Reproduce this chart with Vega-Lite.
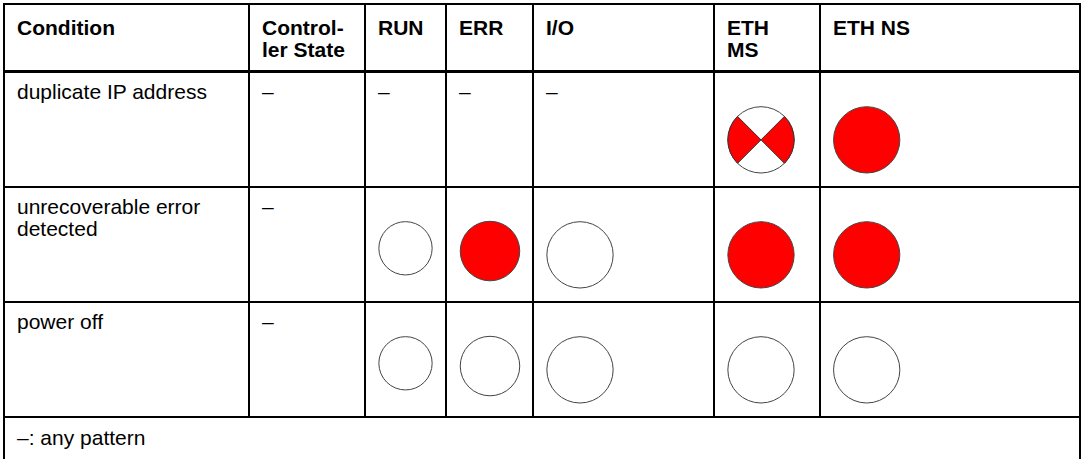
{
  "$schema": "https://vega.github.io/schema/vega-lite/v6.json",
  "padding": {"left": 3, "top": 3, "right": 0, "bottom": 0},
  "background": "white",
  "spacing": -2,
  "config": {
    "view": {"stroke": null},
    "text": {"font": "Liberation Sans", "fontSize": 21, "color": "black"},
    "concat": {"spacing": 0}
  },
  "datasets": {
    "header": [
      {"col": "Condition", "label": "Condition"},
      {"col": "State", "label": "Control-\nler State"},
      {"col": "RUN", "label": "RUN"},
      {"col": "ERR", "label": "ERR"},
      {"col": "IO", "label": "I/O"},
      {"col": "ETHMS", "label": "ETH\nMS"},
      {"col": "ETHNS", "label": "ETH NS"}
    ],
    "cells": [
      {"row": "dup", "col": "Condition", "text": "duplicate IP address"},
      {"row": "dup", "col": "State", "text": "–"},
      {"row": "dup", "col": "RUN", "text": "–"},
      {"row": "dup", "col": "ERR", "text": "–"},
      {"row": "dup", "col": "IO", "text": "–"},
      {"row": "dup", "col": "ETHMS", "led": "flashing"},
      {"row": "dup", "col": "ETHNS", "led": "on"},
      {"row": "err", "col": "Condition", "text": "unrecoverable error\ndetected"},
      {"row": "err", "col": "State", "text": "–"},
      {"row": "err", "col": "RUN", "led": "off"},
      {"row": "err", "col": "ERR", "led": "on"},
      {"row": "err", "col": "IO", "led": "off"},
      {"row": "err", "col": "ETHMS", "led": "on"},
      {"row": "err", "col": "ETHNS", "led": "on"},
      {"row": "off", "col": "Condition", "text": "power off"},
      {"row": "off", "col": "State", "text": "–"},
      {"row": "off", "col": "RUN", "led": "off"},
      {"row": "off", "col": "ERR", "led": "off"},
      {"row": "off", "col": "IO", "led": "off"},
      {"row": "off", "col": "ETHMS", "led": "off"},
      {"row": "off", "col": "ETHNS", "led": "off"}
    ],
    "notes": [{"note": "–: any pattern"}]
  },
  "vconcat": [
    {
      "bounds": "flush",
      "spacing": 0,
      "hconcat": [
        {"width": 245, "height": 67, "data": {"name": "header"}, "transform": [{"filter": "datum.col === 'Condition'"}],
         "layer": [
           {"mark": {"type": "rect", "fill": "white", "stroke": "black", "strokeWidth": 2}, "encoding": {"x": {"value": 0}, "x2": {"value": "width"}, "y": {"value": 0}, "y2": {"value": "height"}}},
           {"mark": {"type": "text", "align": "left", "baseline": "alphabetic", "fontWeight": "bold", "x": 0, "dx": 13, "y": 0, "dy": 30.5, "lineHeight": 22, "lineBreak": "\n"}, "encoding": {"text": {"field": "label"}}}
         ]},
        {"width": 116, "height": 67, "data": {"name": "header"}, "transform": [{"filter": "datum.col === 'State'"}],
         "layer": [
           {"mark": {"type": "rect", "fill": "white", "stroke": "black", "strokeWidth": 2}, "encoding": {"x": {"value": 0}, "x2": {"value": "width"}, "y": {"value": 0}, "y2": {"value": "height"}}},
           {"mark": {"type": "text", "align": "left", "baseline": "alphabetic", "fontWeight": "bold", "x": 0, "dx": 13, "y": 0, "dy": 30.5, "lineHeight": 22, "lineBreak": "\n"}, "encoding": {"text": {"field": "label"}}}
         ]},
        {"width": 81, "height": 67, "data": {"name": "header"}, "transform": [{"filter": "datum.col === 'RUN'"}],
         "layer": [
           {"mark": {"type": "rect", "fill": "white", "stroke": "black", "strokeWidth": 2}, "encoding": {"x": {"value": 0}, "x2": {"value": "width"}, "y": {"value": 0}, "y2": {"value": "height"}}},
           {"mark": {"type": "text", "align": "left", "baseline": "alphabetic", "fontWeight": "bold", "x": 0, "dx": 13, "y": 0, "dy": 30.5, "lineHeight": 22, "lineBreak": "\n"}, "encoding": {"text": {"field": "label"}}}
         ]},
        {"width": 87, "height": 67, "data": {"name": "header"}, "transform": [{"filter": "datum.col === 'ERR'"}],
         "layer": [
           {"mark": {"type": "rect", "fill": "white", "stroke": "black", "strokeWidth": 2}, "encoding": {"x": {"value": 0}, "x2": {"value": "width"}, "y": {"value": 0}, "y2": {"value": "height"}}},
           {"mark": {"type": "text", "align": "left", "baseline": "alphabetic", "fontWeight": "bold", "x": 0, "dx": 13, "y": 0, "dy": 30.5, "lineHeight": 22, "lineBreak": "\n"}, "encoding": {"text": {"field": "label"}}}
         ]},
        {"width": 181, "height": 67, "data": {"name": "header"}, "transform": [{"filter": "datum.col === 'IO'"}],
         "layer": [
           {"mark": {"type": "rect", "fill": "white", "stroke": "black", "strokeWidth": 2}, "encoding": {"x": {"value": 0}, "x2": {"value": "width"}, "y": {"value": 0}, "y2": {"value": "height"}}},
           {"mark": {"type": "text", "align": "left", "baseline": "alphabetic", "fontWeight": "bold", "x": 0, "dx": 13, "y": 0, "dy": 30.5, "lineHeight": 22, "lineBreak": "\n"}, "encoding": {"text": {"field": "label"}}}
         ]},
        {"width": 106, "height": 67, "data": {"name": "header"}, "transform": [{"filter": "datum.col === 'ETHMS'"}],
         "layer": [
           {"mark": {"type": "rect", "fill": "white", "stroke": "black", "strokeWidth": 2}, "encoding": {"x": {"value": 0}, "x2": {"value": "width"}, "y": {"value": 0}, "y2": {"value": "height"}}},
           {"mark": {"type": "text", "align": "left", "baseline": "alphabetic", "fontWeight": "bold", "x": 0, "dx": 13, "y": 0, "dy": 30.5, "lineHeight": 22, "lineBreak": "\n"}, "encoding": {"text": {"field": "label"}}}
         ]},
        {"width": 260, "height": 67, "data": {"name": "header"}, "transform": [{"filter": "datum.col === 'ETHNS'"}],
         "layer": [
           {"mark": {"type": "rect", "fill": "white", "stroke": "black", "strokeWidth": 2}, "encoding": {"x": {"value": 0}, "x2": {"value": "width"}, "y": {"value": 0}, "y2": {"value": "height"}}},
           {"mark": {"type": "text", "align": "left", "baseline": "alphabetic", "fontWeight": "bold", "x": 0, "dx": 13, "y": 0, "dy": 30.5, "lineHeight": 22, "lineBreak": "\n"}, "encoding": {"text": {"field": "label"}}}
         ]}
      ]
    },
    {
      "bounds": "flush",
      "spacing": 0,
      "hconcat": [
        {"width": 245, "height": 345, "data": {"name": "cells"}, "transform": [{"filter": "datum.col === 'Condition'"}],
         "layer": [
           {"mark": {"type": "rect", "fill": "white", "stroke": "black", "strokeWidth": 2},
            "encoding": {"y": {"field": "row", "type": "nominal", "scale": {"type": "band", "domain": ["dup", "err", "off"], "paddingInner": 0, "paddingOuter": 0}, "axis": null}}},
           {"transform": [{"filter": "isValid(datum.text)"}],
            "mark": {"type": "text", "align": "left", "baseline": "alphabetic", "x": 0, "dx": 13, "dy": 27, "lineHeight": 22, "lineBreak": "\n"},
            "encoding": {"y": {"field": "row", "type": "nominal", "bandPosition": 0, "scale": {"type": "band", "domain": ["dup", "err", "off"], "paddingInner": 0, "paddingOuter": 0}, "axis": null}, "text": {"field": "text"}}}
         ]},
        {"width": 116, "height": 345, "data": {"name": "cells"}, "transform": [{"filter": "datum.col === 'State'"}],
         "layer": [
           {"mark": {"type": "rect", "fill": "white", "stroke": "black", "strokeWidth": 2},
            "encoding": {"y": {"field": "row", "type": "nominal", "scale": {"type": "band", "domain": ["dup", "err", "off"], "paddingInner": 0, "paddingOuter": 0}, "axis": null}}},
           {"transform": [{"filter": "isValid(datum.text)"}],
            "mark": {"type": "text", "align": "left", "baseline": "alphabetic", "x": 0, "dx": 13, "dy": 27, "lineHeight": 22, "lineBreak": "\n"},
            "encoding": {"y": {"field": "row", "type": "nominal", "bandPosition": 0, "scale": {"type": "band", "domain": ["dup", "err", "off"], "paddingInner": 0, "paddingOuter": 0}, "axis": null}, "text": {"field": "text"}}}
         ]},
        {"width": 81, "height": 345, "data": {"name": "cells"}, "transform": [{"filter": "datum.col === 'RUN'"}],
         "layer": [
           {"mark": {"type": "rect", "fill": "white", "stroke": "black", "strokeWidth": 2},
            "encoding": {"y": {"field": "row", "type": "nominal", "scale": {"type": "band", "domain": ["dup", "err", "off"], "paddingInner": 0, "paddingOuter": 0}, "axis": null}}},
           {"transform": [{"filter": "isValid(datum.text)"}],
            "mark": {"type": "text", "align": "left", "baseline": "alphabetic", "x": 0, "dx": 13, "dy": 27, "lineHeight": 22, "lineBreak": "\n"},
            "encoding": {"y": {"field": "row", "type": "nominal", "bandPosition": 0, "scale": {"type": "band", "domain": ["dup", "err", "off"], "paddingInner": 0, "paddingOuter": 0}, "axis": null}, "text": {"field": "text"}}},
           {"transform": [{"filter": "isValid(datum.led)"}],
            "mark": {"type": "point", "shape": "circle", "filled": true, "opacity": 1, "size": 2841, "stroke": "#444", "strokeWidth": 1, "x": 40.5},
            "encoding": {"y": {"field": "row", "type": "nominal", "bandPosition": 0.533, "scale": {"type": "band", "domain": ["dup", "err", "off"], "paddingInner": 0, "paddingOuter": 0}, "axis": null},
                         "color": {"field": "led", "type": "nominal", "scale": {"domain": ["on", "off", "flashing"], "range": ["#ff0000", "#ffffff", "#ffffff"]}, "legend": null}}}
         ]},
        {"width": 87, "height": 345, "data": {"name": "cells"}, "transform": [{"filter": "datum.col === 'ERR'"}],
         "layer": [
           {"mark": {"type": "rect", "fill": "white", "stroke": "black", "strokeWidth": 2},
            "encoding": {"y": {"field": "row", "type": "nominal", "scale": {"type": "band", "domain": ["dup", "err", "off"], "paddingInner": 0, "paddingOuter": 0}, "axis": null}}},
           {"transform": [{"filter": "isValid(datum.text)"}],
            "mark": {"type": "text", "align": "left", "baseline": "alphabetic", "x": 0, "dx": 13, "dy": 27, "lineHeight": 22, "lineBreak": "\n"},
            "encoding": {"y": {"field": "row", "type": "nominal", "bandPosition": 0, "scale": {"type": "band", "domain": ["dup", "err", "off"], "paddingInner": 0, "paddingOuter": 0}, "axis": null}, "text": {"field": "text"}}},
           {"transform": [{"filter": "isValid(datum.led)"}],
            "mark": {"type": "point", "shape": "circle", "filled": true, "opacity": 1, "size": 3540, "stroke": "#444", "strokeWidth": 1, "x": 44},
            "encoding": {"y": {"field": "row", "type": "nominal", "bandPosition": 0.557, "scale": {"type": "band", "domain": ["dup", "err", "off"], "paddingInner": 0, "paddingOuter": 0}, "axis": null},
                         "color": {"field": "led", "type": "nominal", "scale": {"domain": ["on", "off", "flashing"], "range": ["#ff0000", "#ffffff", "#ffffff"]}, "legend": null}}}
         ]},
        {"width": 181, "height": 345, "data": {"name": "cells"}, "transform": [{"filter": "datum.col === 'IO'"}],
         "layer": [
           {"mark": {"type": "rect", "fill": "white", "stroke": "black", "strokeWidth": 2},
            "encoding": {"y": {"field": "row", "type": "nominal", "scale": {"type": "band", "domain": ["dup", "err", "off"], "paddingInner": 0, "paddingOuter": 0}, "axis": null}}},
           {"transform": [{"filter": "isValid(datum.text)"}],
            "mark": {"type": "text", "align": "left", "baseline": "alphabetic", "x": 0, "dx": 13, "dy": 27, "lineHeight": 22, "lineBreak": "\n"},
            "encoding": {"y": {"field": "row", "type": "nominal", "bandPosition": 0, "scale": {"type": "band", "domain": ["dup", "err", "off"], "paddingInner": 0, "paddingOuter": 0}, "axis": null}, "text": {"field": "text"}}},
           {"transform": [{"filter": "isValid(datum.led)"}],
            "mark": {"type": "point", "shape": "circle", "filled": true, "opacity": 1, "size": 4396, "stroke": "#444", "strokeWidth": 1, "x": 47},
            "encoding": {"y": {"field": "row", "type": "nominal", "bandPosition": 0.59, "scale": {"type": "band", "domain": ["dup", "err", "off"], "paddingInner": 0, "paddingOuter": 0}, "axis": null},
                         "color": {"field": "led", "type": "nominal", "scale": {"domain": ["on", "off", "flashing"], "range": ["#ff0000", "#ffffff", "#ffffff"]}, "legend": null}}}
         ]},
        {"width": 106, "height": 345, "data": {"name": "cells"}, "transform": [{"filter": "datum.col === 'ETHMS'"}],
         "layer": [
           {"mark": {"type": "rect", "fill": "white", "stroke": "black", "strokeWidth": 2},
            "encoding": {"y": {"field": "row", "type": "nominal", "scale": {"type": "band", "domain": ["dup", "err", "off"], "paddingInner": 0, "paddingOuter": 0}, "axis": null}}},
           {"transform": [{"filter": "isValid(datum.led)"}],
            "mark": {"type": "point", "shape": "circle", "filled": true, "opacity": 1, "size": 4396, "stroke": "#444", "strokeWidth": 1, "x": 47},
            "encoding": {"y": {"field": "row", "type": "nominal", "bandPosition": 0.59, "scale": {"type": "band", "domain": ["dup", "err", "off"], "paddingInner": 0, "paddingOuter": 0}, "axis": null},
                         "color": {"field": "led", "type": "nominal", "scale": {"domain": ["on", "off", "flashing"], "range": ["#ff0000", "#ffffff", "#ffffff"]}, "legend": null}}},
           {"transform": [{"filter": "datum.led === 'flashing'"}],
            "mark": {"type": "arc", "theta": 0.7854, "theta2": 2.3562, "outerRadius": 33.15, "innerRadius": 0, "fill": "#ff0000", "stroke": "#333", "strokeWidth": 1, "x": 47},
            "encoding": {"y": {"field": "row", "type": "nominal", "bandPosition": 0.59, "scale": {"type": "band", "domain": ["dup", "err", "off"], "paddingInner": 0, "paddingOuter": 0}, "axis": null}}},
           {"transform": [{"filter": "datum.led === 'flashing'"}],
            "mark": {"type": "arc", "theta": 3.927, "theta2": 5.4978, "outerRadius": 33.15, "innerRadius": 0, "fill": "#ff0000", "stroke": "#333", "strokeWidth": 1, "x": 47},
            "encoding": {"y": {"field": "row", "type": "nominal", "bandPosition": 0.59, "scale": {"type": "band", "domain": ["dup", "err", "off"], "paddingInner": 0, "paddingOuter": 0}, "axis": null}}}
         ]},
        {"width": 260, "height": 345, "data": {"name": "cells"}, "transform": [{"filter": "datum.col === 'ETHNS'"}],
         "layer": [
           {"mark": {"type": "rect", "fill": "white", "stroke": "black", "strokeWidth": 2},
            "encoding": {"y": {"field": "row", "type": "nominal", "scale": {"type": "band", "domain": ["dup", "err", "off"], "paddingInner": 0, "paddingOuter": 0}, "axis": null}}},
           {"transform": [{"filter": "isValid(datum.led)"}],
            "mark": {"type": "point", "shape": "circle", "filled": true, "opacity": 1, "size": 4396, "stroke": "#444", "strokeWidth": 1, "x": 46.7},
            "encoding": {"y": {"field": "row", "type": "nominal", "bandPosition": 0.59, "scale": {"type": "band", "domain": ["dup", "err", "off"], "paddingInner": 0, "paddingOuter": 0}, "axis": null},
                         "color": {"field": "led", "type": "nominal", "scale": {"domain": ["on", "off", "flashing"], "range": ["#ff0000", "#ffffff", "#ffffff"]}, "legend": null}}}
         ]}
      ]
    },
    {
      "width": 1076,
      "height": 43,
      "data": {"name": "notes"},
      "layer": [
        {"mark": {"type": "rule", "strokeWidth": 2, "color": "black"}, "encoding": {"x": {"value": 0}, "y": {"value": 0}, "y2": {"value": "height"}}},
        {"mark": {"type": "rule", "strokeWidth": 2, "color": "black"}, "encoding": {"x": {"value": "width"}, "y": {"value": 0}, "y2": {"value": "height"}}},
        {"mark": {"type": "text", "align": "left", "baseline": "alphabetic", "x": 0, "dx": 13, "y": 0, "dy": 27},
         "encoding": {"text": {"field": "note"}}}
      ]
    }
  ]
}
